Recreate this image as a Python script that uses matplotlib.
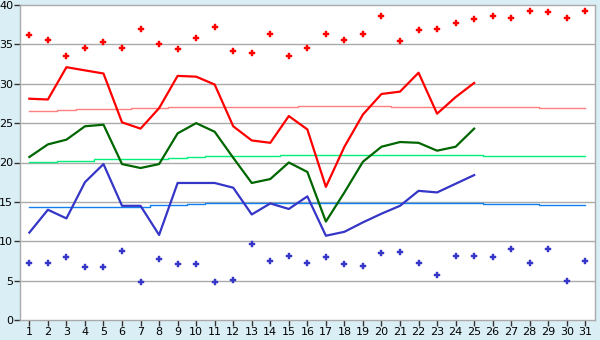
import matplotlib
matplotlib.use("Agg")
import matplotlib.pyplot as plt
import numpy as np

days = list(range(1, 32))

record_max = [36.2, 35.6, 33.5, 34.5, 35.3, 34.5, 37.0, 35.1, 34.4, 35.8,
              37.2, 34.2, 33.9, 36.3, 33.5, 34.5, 36.3, 35.5, 36.3, 38.6,
              35.4, 36.8, 37.0, 37.7, 38.2, 38.6, 38.3, 39.2, 39.1, 38.3, 39.3]
record_min = [7.2, 7.2, 8.0, 6.7, 6.7, 8.8, 4.8, 7.8, 7.1, 7.1,
              4.8, 5.1, 9.7, 7.5, 8.1, 7.2, 8.0, 7.1, 6.9, 8.5,
              8.6, 7.2, 5.7, 8.1, 8.1, 8.0, 9.0, 7.2, 9.0, 4.9, 7.5]

obs_days = list(range(1, 26))
tmax = [28.1, 28.0, 32.1, 31.7, 31.3, 25.1, 24.3, 26.9, 31.0, 30.9,
        29.9, 24.6, 22.8, 22.5, 25.9, 24.2, 16.9, 22.0, 26.1, 28.7,
        29.0, 31.4, 26.2, 28.3, 30.1]
tmean = [20.7, 22.3, 22.9, 24.6, 24.8, 19.8, 19.3, 19.8, 23.7, 25.0,
         23.9, 20.6, 17.4, 17.9, 20.0, 18.8, 12.5, 16.2, 20.1, 22.0,
         22.6, 22.5, 21.5, 22.0, 24.3]
tmin = [11.1, 14.0, 12.9, 17.5, 19.8, 14.5, 14.5, 10.8, 17.4, 17.4,
        17.4, 16.8, 13.4, 14.8, 14.1, 15.7, 10.7, 11.2, 12.4, 13.5,
        14.5, 16.4, 16.2, 17.3, 18.4]

normal_max = [26.6, 26.6, 26.7, 26.8, 26.8, 26.8, 26.9, 26.9, 27.0, 27.0,
              27.1, 27.1, 27.1, 27.1, 27.1, 27.2, 27.2, 27.2, 27.2, 27.2,
              27.1, 27.1, 27.1, 27.1, 27.1, 27.0, 27.0, 27.0, 26.9, 26.9, 26.9]
normal_mean = [20.1, 20.1, 20.2, 20.2, 20.4, 20.4, 20.5, 20.5, 20.6, 20.7,
               20.8, 20.8, 20.8, 20.8, 20.9, 20.9, 20.9, 20.9, 20.9, 20.9,
               20.9, 20.9, 20.9, 20.9, 20.9, 20.8, 20.8, 20.8, 20.8, 20.8, 20.8]
normal_min = [14.3, 14.3, 14.4, 14.4, 14.4, 14.4, 14.4, 14.6, 14.6, 14.7,
              14.8, 14.9, 14.9, 14.9, 14.9, 14.9, 14.9, 14.9, 14.9, 14.9,
              14.8, 14.8, 14.8, 14.8, 14.8, 14.7, 14.7, 14.7, 14.6, 14.6, 14.6]

y_ticks = list(range(0, 41, 5))

bg = "#DAEEF5"
fig = plt.figure(figsize=(6, 3.4), dpi=100, facecolor=bg)
ax = fig.add_axes([20.1 / 600, 20 / 340, 574.5 / 600, 315 / 340])
ax.set_facecolor("white")

for y in y_ticks[1:-1]:
    ax.axhline(y, color="#AAAAAA", lw=1.0, zorder=1)

ax.plot(days, normal_max, color="#FF8080", lw=1.0, drawstyle="steps-mid", zorder=2)
ax.plot(days, normal_mean, color="#00F07A", lw=1.0, drawstyle="steps-mid", zorder=2)
ax.plot(days, normal_min, color="#1080F0", lw=1.0, drawstyle="steps-mid", zorder=2)

ax.plot(obs_days, tmax, color="#FF0000", lw=1.6, zorder=3)
ax.plot(obs_days, tmean, color="#006600", lw=1.6, zorder=3)
ax.plot(obs_days, tmin, color="#3535C8", lw=1.6, zorder=3)

ax.plot(days, record_max, ls="none", marker="P", ms=5, color="#FF0000",
        mec="#FF0000", mew=0.3, zorder=4)
ax.plot(days, record_min, ls="none", marker="P", ms=5, color="#3535C8",
        mec="#3535C8", mew=0.3, zorder=4)

ax.set_xlim(0.5, 31.5)
ax.set_ylim(0, 40)
ax.set_xticks(days)
ax.set_xticklabels([str(d) for d in days])
ax.set_yticks(y_ticks)
ax.set_yticklabels([str(v) for v in y_ticks])
for s in ax.spines.values():
    s.set_color("#AAAAAA")
    s.set_linewidth(1.0)
ax.tick_params(axis="both", colors="#333333", labelcolor="black", length=4,
               width=1.0, labelsize=8, pad=1)

fig.savefig("out.png", dpi=100, facecolor=bg)
